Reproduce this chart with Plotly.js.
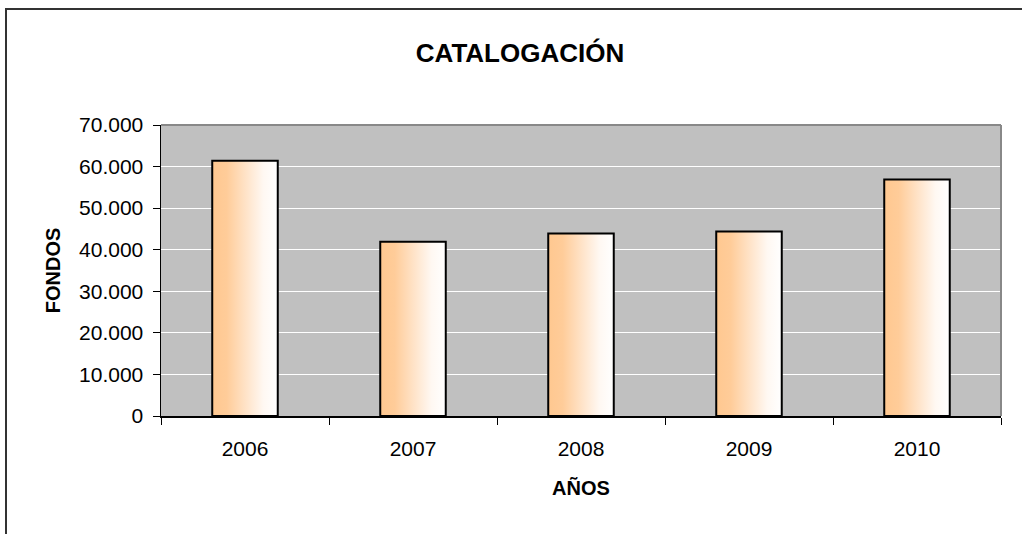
<!DOCTYPE html>
<html>
<head>
<meta charset="utf-8">
<script src="https://cdn.plot.ly/plotly-3.0.1.min.js"></script>
<style>
  html, body { margin: 0; padding: 0; background: #ffffff; }
  #chart { width: 1022px; height: 534px; }
</style>
</head>
<body>
<div id="chart"></div>
<script>
// ---- data ----
const years = ["2006", "2007", "2008", "2009", "2010"];
const fondos = [61400, 41900, 43900, 44400, 56900];
const yTicks = [0, 10000, 20000, 30000, 40000, 50000, 60000, 70000];

const chartTitle = "CATALOGACIÓN";
const xTitle = "AÑOS";
const yTitle = "FONDOS";

const FONT = "Liberation Sans, Arial, Helvetica, sans-serif";

const trace = {
  type: "bar",
  x: years,
  y: fondos,
  width: 0.39,
  marker: {
    color: "#FFCC99",
    line: { color: "#000000", width: 2 }
  },
  hoverinfo: "x+y"
};

// plot area pixel geometry: left 161, right 1001, top 125, bottom 416
const L = 161, R = 1022 - 1001, T = 125, B = 534 - 416;
const pw = 1022 - L - R, ph = 534 - T - B;
const px = v => (v - L) / pw;
const py = v => (534 - B - v) / ph;

const layout = {
  width: 1022,
  height: 534,
  margin: { l: L, r: R, t: T, b: B, pad: 0 },
  paper_bgcolor: "#ffffff",
  plot_bgcolor: "#C0C0C0",
  separators: ",.",
  showlegend: false,
  font: { family: FONT, color: "#000000", size: 21 },
  title: {
    text: chartTitle,
    font: { family: FONT, size: 26, weight: 700, color: "#000000" },
    xref: "container", yref: "container",
    x: 520 / 1022, xanchor: "center",
    y: 1 - 53 / 534, yanchor: "middle"
  },
  xaxis: {
    type: "category",
    showline: true, linecolor: "#000000", linewidth: 1.5,
    ticks: "outside", ticklen: 7, tickcolor: "#000000", tickwidth: 1,
    tickson: "boundaries",
    showgrid: false,
    tickfont: { family: FONT, size: 21, color: "#000000" },
    ticklabelstandoff: 13,
    title: {
      text: xTitle,
      font: { family: FONT, size: 20, weight: 700, color: "#000000" },
      standoff: 22
    },
    automargin: false,
    fixedrange: true
  },
  yaxis: {
    range: [0, 70000],
    tickvals: yTicks,
    tickformat: ",d",
    showline: true, linecolor: "#000000", linewidth: 1.5,
    ticks: "outside", ticklen: 7, tickcolor: "#000000", tickwidth: 1,
    showgrid: true, gridcolor: "#ffffff", gridwidth: 1,
    zeroline: false,
    tickfont: { family: FONT, size: 21, color: "#000000" },
    ticklabelstandoff: 5,
    title: {
      text: yTitle,
      font: { family: FONT, size: 20, weight: 700, color: "#000000" },
      standoff: 13
    },
    automargin: false,
    fixedrange: true
  },
  shapes: [
    // grey top and right borders of the plot area
    { type: "line", xref: "paper", yref: "paper", x0: 0, x1: 1, y0: 1, y1: 1,
      line: { color: "#888888", width: 2 } },
    { type: "line", xref: "paper", yref: "paper", x0: 1, x1: 1, y0: 0, y1: 1,
      line: { color: "#888888", width: 2 } },
    // outer chart frame (only top and left edges are in view)
    { type: "line", xref: "paper", yref: "paper",
      x0: px(5), x1: px(1030), y0: py(9), y1: py(9),
      line: { color: "#333333", width: 2 } },
    { type: "line", xref: "paper", yref: "paper",
      x0: px(6), x1: px(6), y0: py(8), y1: py(545),
      line: { color: "#333333", width: 2 } }
  ]
};

const gd = document.getElementById("chart");
Plotly.newPlot(gd, [trace], layout, { displayModeBar: false, staticPlot: true }).then(applyGradient);

function applyGradient() {
  const NS = "http://www.w3.org/2000/svg";
  const svg = gd.querySelector("svg.main-svg");
  let defs = svg.querySelector("defs");
  if (!defs) { defs = document.createElementNS(NS, "defs"); svg.insertBefore(defs, svg.firstChild); }
  const grad = document.createElementNS(NS, "linearGradient");
  grad.setAttribute("id", "barGrad");
  grad.setAttribute("x1", "0"); grad.setAttribute("y1", "0");
  grad.setAttribute("x2", "1"); grad.setAttribute("y2", "0");
  const stops = [[0, "#FFC890"], [0.22, "#FFCC99"], [0.5, "#FFE2C6"], [0.78, "#FFF8F2"], [1, "#FFFFFF"]];
  stops.forEach(([o, c]) => {
    const s = document.createElementNS(NS, "stop");
    s.setAttribute("offset", o);
    s.setAttribute("stop-color", c);
    grad.appendChild(s);
  });
  defs.appendChild(grad);
  gd.querySelectorAll(".trace.bars .point path").forEach(p => {
    p.style.fill = "url(#barGrad)";
  });
}
</script>
</body>
</html>
